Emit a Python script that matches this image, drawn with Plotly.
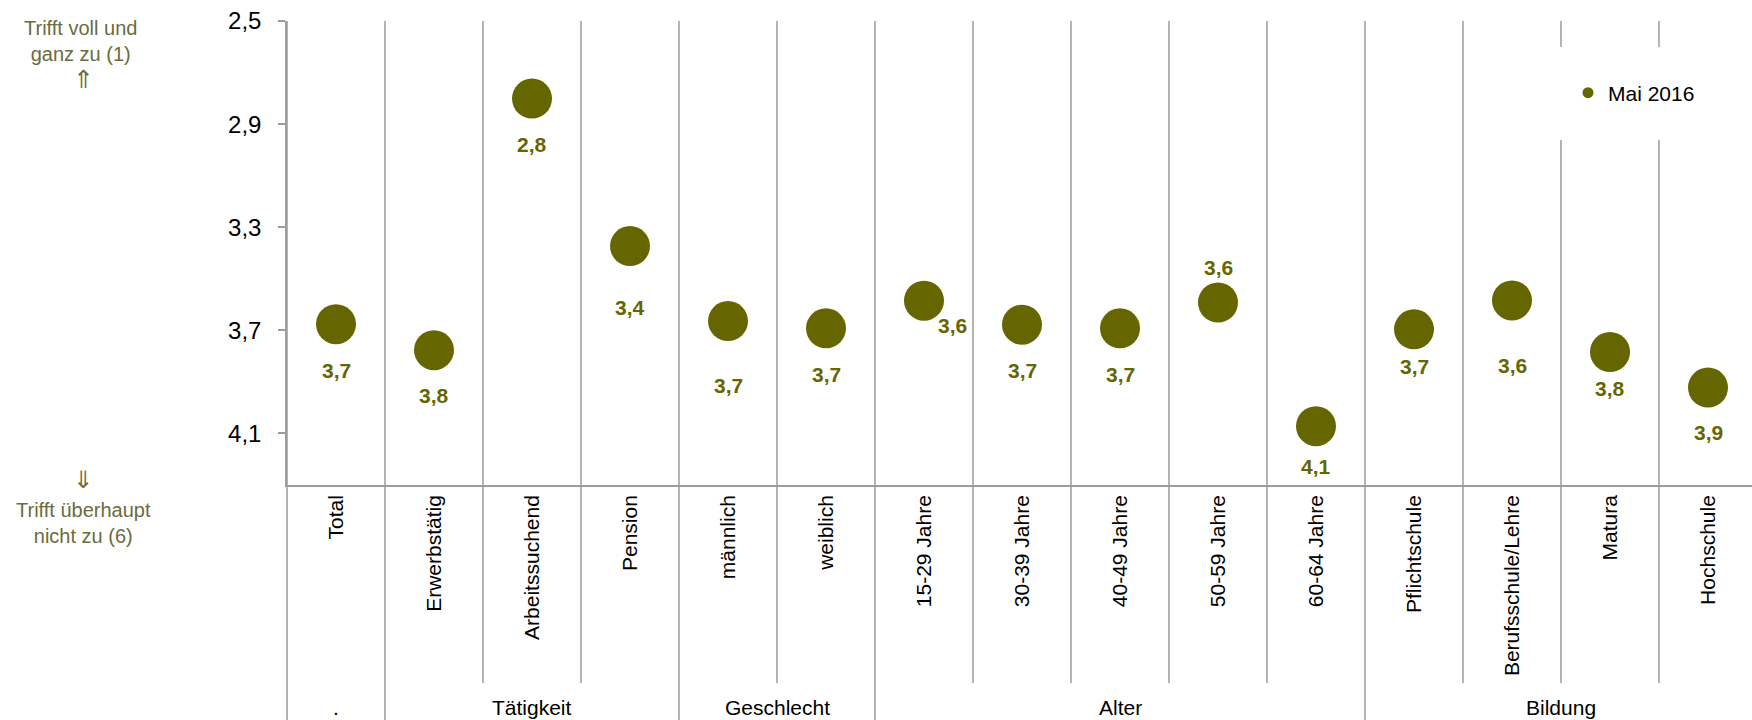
import plotly.graph_objects as go

# Categories and mean scores (scale 1 = "trifft voll und ganz zu" ... 6 = "trifft überhaupt nicht zu")
categories = [
    "Total", "Erwerbstätig", "Arbeitssuchend", "Pension", "männlich", "weiblich",
    "15-29 Jahre", "30-39 Jahre", "40-49 Jahre", "50-59 Jahre", "60-64 Jahre",
    "Pflichtschule", "Berufsschule/Lehre", "Matura", "Hochschule",
]
scores_mai_2016 = [
    3.676, 3.777, 2.801, 3.373, 3.664, 3.692,
    3.585, 3.678, 3.692, 3.592, 4.072,
    3.696, 3.584, 3.784, 3.922,
]
series_name = "Mai 2016"

# Category groups shown beneath the rotated labels
group_names = [".", "Tätigkeit", "Geschlecht", "Alter", "Bildung"]
group_sizes = [1, 3, 2, 5, 4]

y_ticks = [2.5, 2.9, 3.3, 3.7, 4.1]

# Pixel offsets of each value label relative to its dot (dx right, dy down)
label_dx = [0, 0, 0, 0, 0, 0, 28, 0, 0, 0, 0, 0, 0, 0, 0]
label_dy = [46, 45, 46, 61, 64, 46, 25, 46, 46, -35, 40, 37, 65, 37, 45]

OLIVE = "#666600"
NOTE = "#6b6b40"
GRID = "#9c9c9c"
FONT = "Liberation Sans, Arial, DejaVu Sans, sans-serif"

W, H = 1752, 720
PLOT_L, PLOT_R, PLOT_T, PLOT_B = 287, 1752, 21, 485
X_MIN, X_MAX = -0.5, 14.449


def px_x(px):
    return (px - PLOT_L) / (PLOT_R - PLOT_L)


def px_y(py):
    return (PLOT_B - py) / (PLOT_B - PLOT_T)


def data_to_paper_x(xv):
    return (xv - X_MIN) / (X_MAX - X_MIN)


def fmt(v):
    return f"{v:.1f}".replace(".", ",")


x_idx = list(range(len(categories)))

fig = go.Figure()
fig.add_trace(go.Scatter(
    x=x_idx, y=scores_mai_2016, mode="markers",
    marker=dict(size=40, color=OLIVE),
    showlegend=False, hoverinfo="skip",
))
# legend entry with a small marker
fig.add_trace(go.Scatter(
    x=[None], y=[None], mode="markers", name=series_name,
    marker=dict(size=11, color=OLIVE),
))

annotations = []
for i, v in enumerate(scores_mai_2016):
    annotations.append(dict(
        x=i, y=v, xref="x", yref="y", text=fmt(v), showarrow=False,
        xshift=label_dx[i], yshift=-label_dy[i],
        font=dict(family=FONT, size=21, color=OLIVE, weight="bold"),
    ))

# group separators and labels
shapes = []
group_ends = set()
start = 0
for name, size in zip(group_names, group_sizes):
    end = start + size - 1
    group_ends.add(end)
    annotations.append(dict(
        x=(start + end) / 2, y=px_y(707), xref="x", yref="paper", text=name,
        showarrow=False, yanchor="middle",
        font=dict(family=FONT, size=21, color="#000000"),
    ))
    start = end + 1

for i in range(len(categories) - 1):
    xp = data_to_paper_x(i + 0.5)
    y_bottom = px_y(720) if i in group_ends else px_y(683)
    shapes.append(dict(
        type="line", xref="paper", yref="paper", x0=xp, x1=xp, y0=1, y1=y_bottom,
        line=dict(color=GRID, width=1.5), layer="below",
    ))
# left border continuing below the axis
shapes.append(dict(
    type="line", xref="paper", yref="paper", x0=0, x1=0, y0=1, y1=px_y(720),
    line=dict(color=GRID, width=1.5), layer="below",
))
# white backing behind the legend
shapes.append(dict(
    type="rect", xref="paper", yref="paper",
    x0=px_x(1545), x1=px_x(1725), y0=px_y(140), y1=px_y(47),
    fillcolor="white", line=dict(width=0), layer="below",
))

# scale direction notes on the left (text block + arrow)
notes = [
    ("Trifft voll und<br>ganz zu (1)", 80, 41, 20),
    ("⇑", 83, 79, 25),
    ("⇓", 83, 479, 24),
    ("Trifft überhaupt<br>nicht zu (6)", 83, 523, 20),
]
for text, nx, ny, size in notes:
    annotations.append(dict(
        x=px_x(nx), y=px_y(ny), xref="paper", yref="paper", text=text,
        showarrow=False, xanchor="center", yanchor="middle", align="center",
        font=dict(family=FONT, size=size, color=NOTE),
    ))

fig.update_layout(
    width=W, height=H,
    margin=dict(l=PLOT_L, r=W - PLOT_R, t=PLOT_T, b=H - PLOT_B, pad=0),
    paper_bgcolor="white", plot_bgcolor="white",
    separators=",.",
    font=dict(family=FONT, color="#000000"),
    showlegend=True,
    legend=dict(
        x=px_x(1568), y=px_y(93), xanchor="left", yanchor="middle",
        bgcolor="rgba(0,0,0,0)", borderwidth=0,
        font=dict(family=FONT, size=21, color="#000000"),
        itemwidth=30,
    ),
    xaxis=dict(
        range=[X_MIN, X_MAX], tickmode="array", tickvals=x_idx, ticktext=categories,
        tickangle=-90, ticks="", showgrid=False, zeroline=False,
        showline=True, linecolor=GRID, linewidth=1.5,
        tickfont=dict(family=FONT, size=21, color="#000000"),
        ticklabelstandoff=0,
    ),
    yaxis=dict(
        range=[4.3, 2.5], tickmode="array", tickvals=y_ticks,
        tickformat=".1f", ticks="outside", ticklen=7, tickcolor=GRID, tickwidth=1.5,
        showgrid=False, zeroline=False, showline=True, linecolor=GRID, linewidth=1.5,
        tickfont=dict(family=FONT, size=24, color="#000000"),
        ticklabelstandoff=12,
    ),
    shapes=shapes, annotations=annotations,
)

fig.write_html("out.html")
